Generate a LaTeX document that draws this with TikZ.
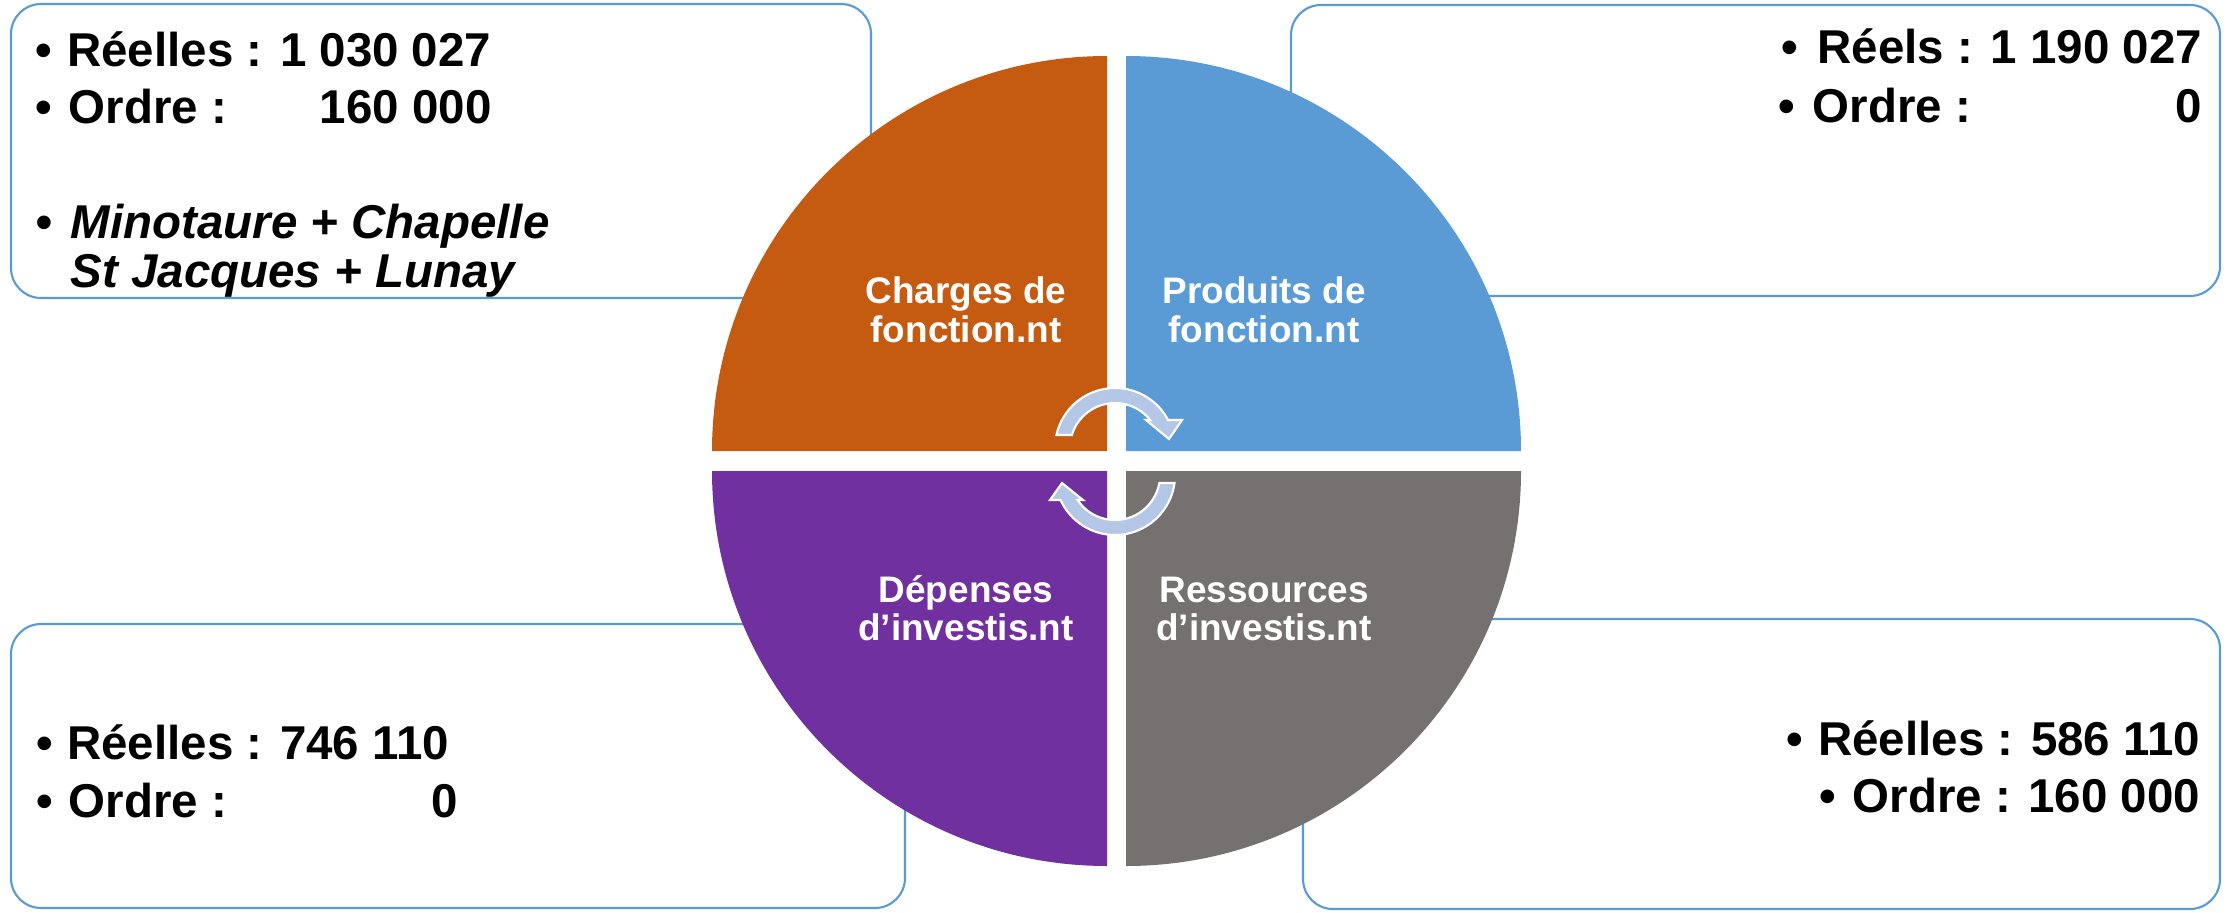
\documentclass[tikz,border=0pt]{standalone}
\usepackage{fontspec}
\setmainfont{Liberation Sans}
\definecolor{qorange}{HTML}{C55A11}
\definecolor{qblue}{HTML}{5B9BD5}
\definecolor{qpurple}{HTML}{7030A0}
\definecolor{qgray}{HTML}{767171}
\definecolor{arrowfill}{HTML}{B4C7E7}
\definecolor{boxblue}{HTML}{5B9BD5}
\newcommand{\bulletbox}[1]{\makebox[#1][l]{•}}
\tikzset{
  infobox/.style={draw=boxblue, line width=0.6pt, rounded corners=0.3cm, fill=white},
  txt/.style={anchor=base west, inner sep=0pt, font=\fontsize{13.5pt}{16pt}\selectfont\bfseries},
  itxt/.style={txt, font=\fontsize{13.5pt}{16pt}\selectfont\bfseries\itshape},
  lbl/.style={anchor=base, inner sep=0pt, text=white, font=\fontsize{10.5pt}{12pt}\selectfont\bfseries},
  cyc/.style={fill=arrowfill, draw=white, line width=0.6pt, line join=miter}
}
\begin{document}
\begin{tikzpicture}[x=0.01cm, y=-0.01cm]
\useasboundingbox (0,0) rectangle (2231,912);
\fill[white] (0,0) rectangle (2231,912);

% text boxes
\draw[infobox] (11,4) rectangle (871,298);
\draw[infobox] (1291,5) rectangle (2220,296);
\draw[infobox] (11,624) rectangle (905,908);
\draw[infobox] (1303,619) rectangle (2220,909);

% box texts
\node[txt] (l1a) at (35,67) {\bulletbox{0.315cm}Réelles : 1 030 027};
\node[txt] (l1b) at (35,123) {\bulletbox{0.33cm}\makebox[2.51cm][l]{Ordre :}160 000};
\node[itxt] (l1c) at (35,238) {\bulletbox{0.35cm}Minotaure + Chapelle};
\node[itxt] (l1d) at (70,287) {St Jacques + Lunay};

\node[txt] (r1a) at (1781,63) {\bulletbox{0.36cm}Réels : 1 190 027};
\node[txt] (r1b) at (1778,122) {\bulletbox{0.34cm}\makebox[3.89cm][s]{Ordre :\hfill 0}};

\node[txt] (l2a) at (36,759) {\bulletbox{0.305cm}Réelles : 746 110};
\node[txt] (l2b) at (36,817) {\bulletbox{0.32cm}\makebox[3.89cm][s]{Ordre :\hfill 0}};

\node[txt] (r2a) at (1786,755) {\bulletbox{0.315cm}Réelles : 586 110};
\node[txt] (r2b) at (1819,812) {\bulletbox{0.33cm}Ordre : 160 000};

% quadrants
\fill[qorange] (1107,451) -- (712,451) arc[start angle=180, end angle=270, radius=395] -- cycle;
\fill[qblue] (1126,451) -- (1126,56) arc[start angle=270, end angle=360, radius=395] -- cycle;
\fill[qgray] (1126,471) -- (1521,471) arc[start angle=0, end angle=90, radius=395] -- cycle;
\fill[qpurple] (1107,471) -- (1107,866) arc[start angle=90, end angle=180, radius=395] -- cycle;

% quadrant labels
\node[lbl] (q1a) at (966,303) {Charges de};
\node[lbl] (q1b) at (966,342) {fonction.nt};
\node[lbl] (q2a) at (1264,303) {Produits de};
\node[lbl] (q2b) at (1264,342) {fonction.nt};
\node[lbl] (q3a) at (966,602) {Dépenses};
\node[lbl] (q3b) at (966,640) {d’investis.nt};
\node[lbl] (q4a) at (1264,602) {Ressources};
\node[lbl] (q4b) at (1264,640) {d’investis.nt};

% cycle arrows
\filldraw[cyc] (1056.4,435) arc[start angle=192.5, end angle=332.2, radius=60]
  -- (1182,420) -- (1169,439) -- (1146,420) -- (1150.2,420)
  arc[start angle=321.5, end angle=196.8, radius=45] -- cycle;
\filldraw[cyc] (1174.5,483) arc[start angle=7.66, end angle=155.4, radius=60]
  -- (1050,500) -- (1062,483) -- (1083,500) -- (1077.6,500)
  arc[start angle=146.3, end angle=10.24, radius=45] -- cycle;
\end{tikzpicture}
\end{document}
